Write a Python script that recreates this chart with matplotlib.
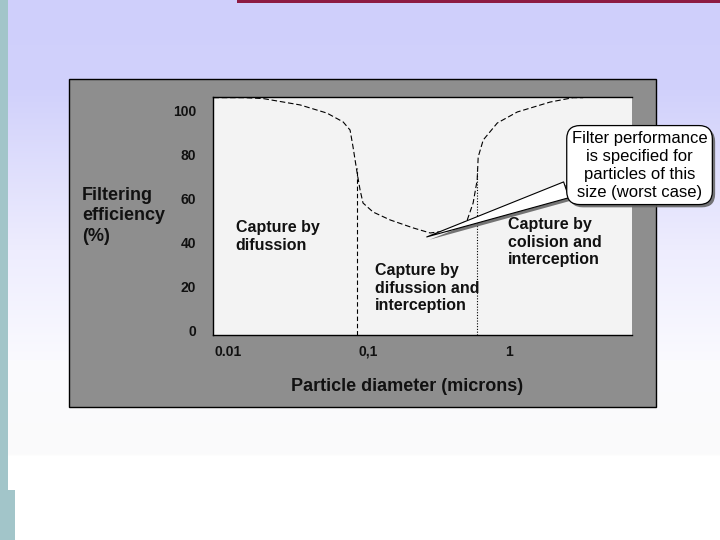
import numpy as np
import matplotlib.pyplot as plt
from matplotlib.patches import Rectangle
import matplotlib.patheffects as pe

plt.rcParams['font.family'] = ['Liberation Sans', 'DejaVu Sans']

# curve (diameter in microns, efficiency in %)
diameter = [0.0079, 0.0132, 0.0178, 0.0327, 0.0507, 0.0661, 0.0741, 0.0778,
            0.0832, 0.0873, 0.0916, 0.108, 0.143, 0.208, 0.275, 0.401,
            0.505, 0.556, 0.594, 0.604, 0.656, 0.826, 1.146, 1.96, 2.86, 3.37]
efficiency = [105.7, 105.7, 105.3, 102.4, 98.7, 94.7, 91.0, 83.3,
              71.5, 63.8, 57.9, 53.8, 50.2, 46.6, 44.3, 45.6,
              50.2, 57.9, 68.3, 78.8, 86.5, 94.2, 99.2, 103.7, 105.7, 105.7]

boundary_x = [0.083, 0.595]
boundary_top = [74, 74]

eff_ticks = [0, 20, 40, 60, 80, 100]
size_ticks = [0.01, 0.1, 1]
size_tick_labels = ['0.01', '0,1', '1']

regions = ['Capture by\ndifussion',
           'Capture by\ndifussion and\ninterception',
           'Capture by\ncolision and\ninterception']
region_x = [0.0114, 0.112, 0.99]
region_y = [50, 30.5, 51.5]

worst_x, worst_y = 0.26, 42.5
callout = 'Filter performance\nis specified for\nparticles of this\nsize (worst case)'

fig = plt.figure(figsize=(7.2, 5.4), dpi=100)

# slide background in pixel coordinates
bg = fig.add_axes([0, 0, 1, 1])
bg.set_xlim(0, 720)
bg.set_ylim(540, 0)
bg.axis('off')
stops_y = [0, 90, 250, 360, 454, 456, 540]
stops_c = np.array([[207, 207, 251], [209, 209, 251], [238, 237, 254],
                    [250, 250, 254], [251, 251, 251], [255, 255, 255],
                    [255, 255, 255]]) / 255
rows = np.arange(540)
grad = np.stack([np.interp(rows, stops_y, stops_c[:, k]) for k in range(3)], axis=1)
bg.imshow(np.repeat(grad[:, None, :], 2, axis=1), extent=(0, 720, 540, 0),
          aspect='auto', zorder=0)
bg.add_patch(Rectangle((0, 0), 8, 490, color='#a2c5c9', lw=0, zorder=1))
bg.add_patch(Rectangle((0, 490), 15, 50, color='#a2c5c9', lw=0, zorder=1))
bg.add_patch(Rectangle((237, 0), 483, 3, color='#8e1b42', lw=0, zorder=1))
bg.add_patch(Rectangle((69, 79), 587, 328, facecolor='#8e8e8e',
                       edgecolor='black', lw=1, zorder=1))

ax = fig.add_axes([213 / 720, 205 / 540, 419 / 720, 238 / 540])
ax.set_facecolor('#f3f3f3')
ax.set_xscale('log')
ax.set_xlim(0.00785, 7.5)
ax.set_ylim(-2, 106)

ax.plot(diameter, efficiency, color='black', lw=0.8,
        linestyle=(0, (5, 2.5)), clip_on=False, zorder=3)
ax.vlines(boundary_x[0], -2, boundary_top[0], color='black', lw=0.8,
          linestyle=(0, (4, 2.5)))
ax.vlines(boundary_x[1], -2, boundary_top[1], color='black', lw=0.8,
          linestyle=(0, (1, 1.5)))

for label, x, y in zip(regions, region_x, region_y):
    ax.text(x, y, label, ha='left', va='top', fontsize=11.5,
            fontweight='bold', linespacing=1.2, color='#111111')

ax.set_yticks(eff_ticks)
ax.set_xticks(size_ticks)
ax.set_xticklabels(size_tick_labels)
ax.minorticks_off()
ax.tick_params(axis='both', length=0, labelsize=10, colors='#111111')
ax.tick_params(axis='y', pad=12)
ax.tick_params(axis='x', pad=7)
for t in ax.get_xticklabels() + ax.get_yticklabels():
    t.set_fontweight('bold')

for side in ['left', 'top', 'bottom']:
    ax.spines[side].set_color('black')
    ax.spines[side].set_linewidth(1)
ax.spines['right'].set_visible(False)

ax.set_ylabel('Filtering\nefficiency\n(%)', rotation=0, ha='left', va='center',
              fontsize=13, fontweight='bold', linespacing=1.25, color='#111111')
ax.yaxis.set_label_coords(-0.313, 0.50)
ax.set_xlabel('Particle diameter (microns)', fontsize=13, fontweight='bold',
              va='center', color='#111111')
ax.xaxis.set_label_coords(0.463, -0.218)

ann = ax.annotate(callout, xy=(worst_x, worst_y), xytext=(1.018, 0.714),
                  textcoords='axes fraction', ha='center', va='center',
                  fontsize=12, linespacing=1.25, annotation_clip=False,
                  bbox=dict(boxstyle='round,pad=0.3,rounding_size=0.8',
                            fc='white', ec='black', lw=0.9),
                  arrowprops=dict(arrowstyle='wedge,tail_width=1.0',
                                  fc='white', ec='black', lw=0.8,
                                  shrinkA=0, shrinkB=0),
                  zorder=5)
shadow = [pe.SimplePatchShadow(offset=(2, -2), shadow_rgbFace='#666666', alpha=0.9),
          pe.Normal()]
ann.get_bbox_patch().set_path_effects(shadow)
ann.arrow_patch.set_path_effects(shadow)

fig.savefig('out.png', dpi=100)
